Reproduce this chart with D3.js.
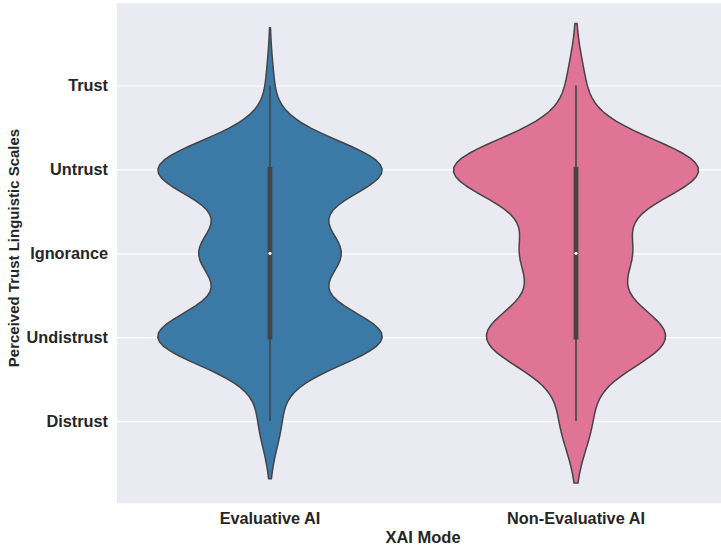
<!DOCTYPE html>
<html>
<head>
<meta charset="utf-8">
<script src="https://cdn.jsdelivr.net/npm/d3@7"></script>
<style>
  body { margin: 0; background: #ffffff; }
  text { font-family: "Liberation Sans", Arial, "DejaVu Sans", sans-serif; font-weight: bold; fill: #262626; }
</style>
</head>
<body>
<svg id="chart" width="721" height="547"></svg>
<script>
// Perceived trust levels, coded 1 (Distrust) to 5 (Trust)
const levelValues = [1, 2, 3, 4, 5];
const levelLabels = ["Distrust", "Undistrust", "Ignorance", "Untrust", "Trust"];

// XAI modes shown along the x axis
const modes = ["Evaluative AI", "Non-Evaluative AI"];

// Number of responses at each trust level (same order as levelValues)
const evaluativeCounts = [6, 62, 38, 62, 2];
const nonEvaluativeCounts = [9, 53, 31, 73, 5];

const modeColors = ["#3b7aa6", "#e07496"];
const lineGray = "#444444";

const svg = d3.select("#chart");

// Plot frame
const plotLeft = 117, plotRight = 729, plotTop = 3.3, plotBottom = 503.3;

const x = d3.scaleBand().domain(modes).range([plotLeft, plotRight]).padding(0);
const y = d3.scaleLinear().domain([0.02, 5.98]).range([plotBottom, plotTop]);

// Gaussian KDE per group, Scott's rule bandwidth, support cut at 2 bandwidths
function violinStats(counts) {
  const samples = [];
  counts.forEach((c, i) => { for (let k = 0; k < c; k++) samples.push(levelValues[i]); });
  const n = samples.length;
  const sd = d3.deviation(samples);
  const bw = sd * Math.pow(n, -0.2);
  const lo = d3.min(samples) - 2 * bw, hi = d3.max(samples) + 2 * bw;
  const grid = d3.range(100).map(i => lo + (hi - lo) * i / 99);
  const norm = 1 / (n * bw * Math.sqrt(2 * Math.PI));
  const dens = grid.map(v => {
    let s = 0;
    counts.forEach((c, i) => {
      const z = (v - levelValues[i]) / bw;
      s += c * Math.exp(-0.5 * z * z);
    });
    return { v, d: s * norm };
  });
  const sorted = samples.slice().sort(d3.ascending);
  const q1 = d3.quantileSorted(sorted, 0.25);
  const q2 = d3.quantileSorted(sorted, 0.5);
  const q3 = d3.quantileSorted(sorted, 0.75);
  const iqr = q3 - q1;
  const wLo = d3.min(sorted.filter(s => s >= q1 - 1.5 * iqr));
  const wHi = d3.max(sorted.filter(s => s <= q3 + 1.5 * iqr));
  return { dens, q1, q2, q3, wLo, wHi };
}

const groups = [evaluativeCounts, nonEvaluativeCounts].map(violinStats);
const maxDensity = d3.max(groups, g => d3.max(g.dens, p => p.d));
const halfWidth = x.bandwidth() * 0.8 / 2;
const w = d3.scaleLinear().domain([0, maxDensity]).range([0, halfWidth]);

// Background panel
svg.append("rect")
  .attr("x", plotLeft).attr("y", plotTop)
  .attr("width", plotRight - plotLeft).attr("height", plotBottom - plotTop)
  .attr("fill", "#eaeaf2");

// Horizontal grid lines with y tick labels
const yAxis = svg.append("g")
  .attr("transform", `translate(${plotLeft},0)`)
  .call(d3.axisLeft(y)
    .tickValues(levelValues)
    .tickFormat(v => levelLabels[v - 1])
    .tickSize(-(plotRight - plotLeft))
    .tickPadding(9));
yAxis.select(".domain").remove();
yAxis.selectAll(".tick line").attr("stroke", "#ffffff").attr("stroke-width", 1.2);
yAxis.selectAll(".tick text")
  .attr("x", -9)
  .style("font-size", "16.3px")
  .style("font-family", "'Liberation Sans', Arial, sans-serif")
  .style("font-weight", "bold")
  .attr("fill", "#262626");

// Category tick labels
const xAxis = svg.append("g")
  .attr("transform", `translate(0,${plotBottom})`)
  .call(d3.axisBottom(x).tickSize(0).tickPadding(9.5));
xAxis.select(".domain").remove();
xAxis.selectAll(".tick text")
  .style("font-size", "16.3px")
  .style("font-family", "'Liberation Sans', Arial, sans-serif")
  .style("font-weight", "bold")
  .attr("fill", "#262626");

// Violins
groups.forEach((g, i) => {
  const cx = x(modes[i]) + x.bandwidth() / 2;
  const area = d3.area()
    .y(p => y(p.v))
    .x0(p => cx - w(p.d))
    .x1(p => cx + w(p.d))
    .curve(d3.curveLinear);
  svg.append("path")
    .datum(g.dens)
    .attr("d", area)
    .attr("fill", modeColors[i])
    .attr("stroke", lineGray)
    .attr("stroke-width", 1.5)
    .attr("stroke-linejoin", "round");

  // Inner box: whiskers, interquartile bar, median dot
  svg.append("line")
    .attr("x1", cx).attr("x2", cx)
    .attr("y1", y(g.wLo)).attr("y2", y(g.wHi))
    .attr("stroke", lineGray).attr("stroke-width", 1.6);
  svg.append("line")
    .attr("x1", cx).attr("x2", cx)
    .attr("y1", y(g.q1)).attr("y2", y(g.q3))
    .attr("stroke", lineGray).attr("stroke-width", 4.8)
    .attr("stroke-linecap", "square");
  svg.append("circle")
    .attr("cx", cx).attr("cy", y(g.q2)).attr("r", 1.6)
    .attr("fill", "#ffffff");
});

// Axis titles
svg.append("text")
  .attr("x", (plotLeft + plotRight) / 2).attr("y", 542.5)
  .attr("text-anchor", "middle")
  .style("font-size", "16.5px")
  .text("XAI Mode");

svg.append("text")
  .attr("transform", "translate(18.5,248) rotate(-90)")
  .attr("text-anchor", "middle")
  .style("font-size", "15px")
  .text("Perceived Trust Linguistic Scales");
</script>
</body>
</html>
